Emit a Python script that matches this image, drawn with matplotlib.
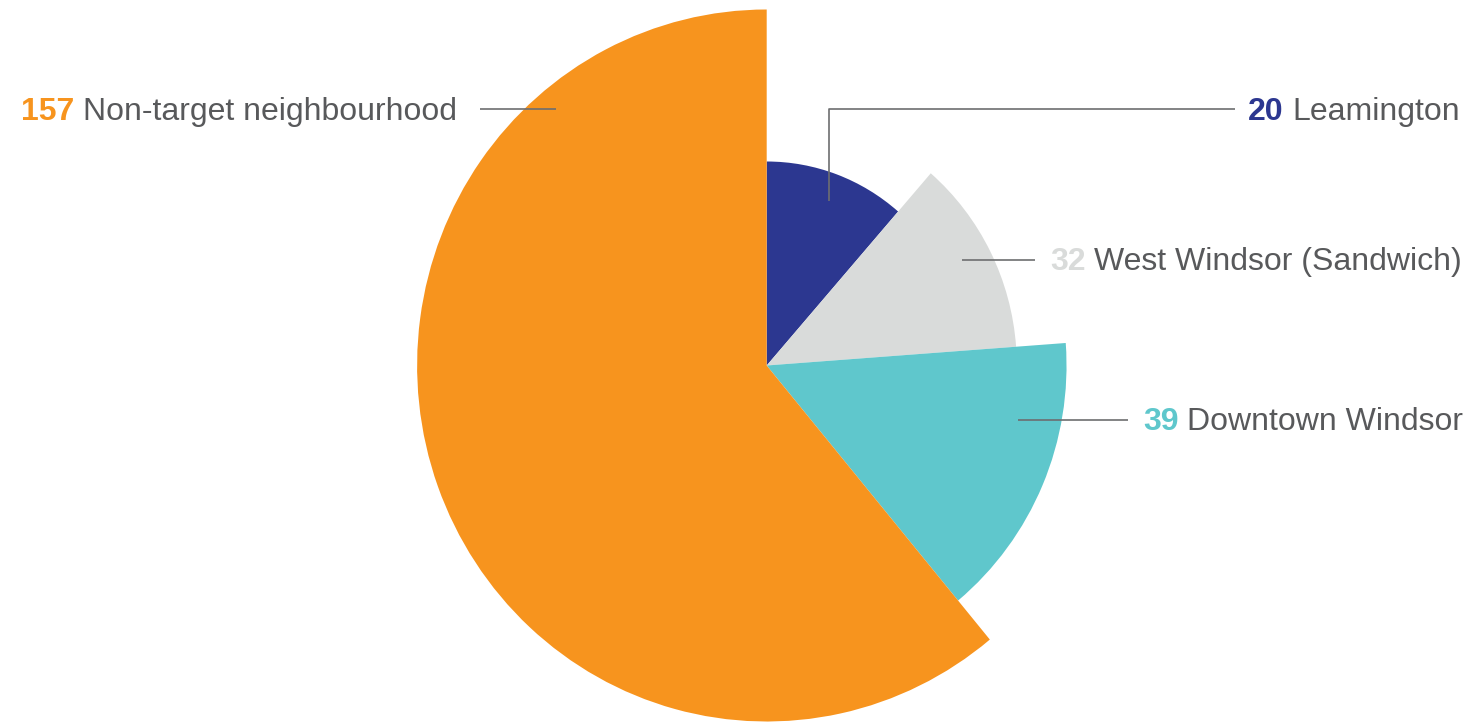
import numpy as np
import matplotlib
matplotlib.use("Agg")
import matplotlib.pyplot as plt
from matplotlib.patches import Wedge

# --- data -------------------------------------------------------------
categories = ["Leamington", "West Windsor (Sandwich)", "Downtown Windsor",
              "Non-target neighbourhood"]
counts = [20, 32, 39, 157]
slice_colors = ["#2C3790", "#D9DBDA", "#5FC7CC", "#F7941E"]

# --- layout / style ---------------------------------------------------
W, H = 1470, 725
SX = 0.982                     # horizontal scale of the drawing area
CENTER = (766.7, 365.5)        # pie centre in pixels (y measured from top)
R_INNER, R_OUTER = 204.0, 356.0
MIN_ANGLE = 41.0               # smallest slice angle, degrees
START_ANGLE = 90.0             # first slice starts at 12 o'clock, clockwise
TEXT_GREY = "#58595B"
LINE_GREY = "#6D6E70"
FONT = "Liberation Sans"
FS = 23

# label anchor (x, baseline y), alignment and leader polyline, in pixels
label_layout = {
    "Leamington": dict(x=1248, y=120, ha="left",
                       leader=[(829, 201), (829, 109), (1235, 109)]),
    "West Windsor (Sandwich)": dict(x=1050, y=270, ha="left",
                                    leader=[(962, 260), (1035, 260)]),
    "Downtown Windsor": dict(x=1143, y=430, ha="left",
                             leader=[(1018, 420), (1128, 420)]),
    "Non-target neighbourhood": dict(x=457, y=120, ha="right",
                                     leader=[(480, 109), (556, 109)]),
}


def P(x, y):
    """pixel position -> data coordinates"""
    return x / SX, H - y


# slice angles: proportional to counts, with a floor for tiny slices
vals = np.asarray(counts, dtype=float)
angles = vals / vals.sum() * 360.0
small = angles < MIN_ANGLE
angles[small] = MIN_ANGLE
angles[~small] = vals[~small] / vals[~small].sum() * (360.0 - MIN_ANGLE * small.sum())

# slice radii grow with the rank of the count
rank = np.argsort(np.argsort(vals))
radii = R_INNER + (R_OUTER - R_INNER) * rank / (len(vals) - 1)

fig = plt.figure(figsize=(W / 100, H / 100), dpi=100)
ax = fig.add_axes([0, 0, 1, 1])
ax.set_xlim(0, W / SX)
ax.set_ylim(0, H)
ax.axis("off")

cx, cy = P(*CENTER)
a = START_ANGLE
for ang, r, col in zip(angles, radii, slice_colors):
    ax.add_patch(Wedge((cx, cy), r, a - ang, a, facecolor=col,
                       edgecolor="none", linewidth=0, zorder=1))
    a -= ang

fig.canvas.draw()
for name, n, col in zip(categories, counts, slice_colors):
    lay = label_layout[name]
    pts = [P(*p) for p in lay["leader"]]
    ax.plot([p[0] for p in pts], [p[1] for p in pts], color=LINE_GREY,
            lw=1.2, solid_capstyle="butt", zorder=3)
    tx, ty = P(lay["x"], lay["y"])
    if lay["ha"] == "left":
        num = ax.text(tx, ty, str(n), color=col, fontsize=FS, fontweight="bold",
                      family=FONT, ha="left", va="baseline", zorder=4)
        ax.annotate(name, xy=(1, 0), xycoords=num, xytext=(6, 0),
                    textcoords="offset points", color=TEXT_GREY, fontsize=FS,
                    family=FONT, ha="left", va="bottom", zorder=4)
    else:
        txt = ax.text(tx, ty, name, color=TEXT_GREY, fontsize=FS, family=FONT,
                      ha="right", va="baseline", zorder=4)
        ax.annotate(str(n), xy=(0, 0), xycoords=txt, xytext=(-6, 0),
                    textcoords="offset points", color=col, fontsize=FS,
                    fontweight="bold", family=FONT, ha="right", va="bottom",
                    zorder=4)

fig.savefig("out.png", dpi=100, facecolor="white")
